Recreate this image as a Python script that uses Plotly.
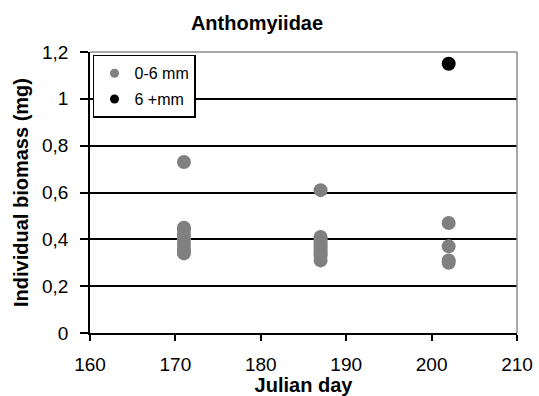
import plotly.graph_objects as go

# Julian day of each sample and individual biomass (mg)
small_days = [171] * 9 + [187] * 11 + [202] * 4
small_biomass = [0.73, 0.45, 0.44, 0.42, 0.40, 0.38, 0.36, 0.35, 0.34,
                 0.61, 0.41, 0.40, 0.39, 0.38, 0.37, 0.36, 0.35, 0.34, 0.33, 0.31,
                 0.47, 0.37, 0.31, 0.30]
large_days = [202]
large_biomass = [1.15]

size_classes = ["0-6 mm", "6 +mm"]
class_colors = ["#808080", "#000000"]

font_family = "Liberation Sans, Arial, sans-serif"

fig = go.Figure()
for days, biomass, name, color in zip([small_days, large_days],
                                      [small_biomass, large_biomass],
                                      size_classes, class_colors):
    fig.add_trace(go.Scatter(
        x=days, y=biomass, mode="markers", name=name, legendgroup=name,
        showlegend=False,
        marker=dict(color=color, size=14, line=dict(width=0)),
    ))
    # small legend swatch for the same size class
    fig.add_trace(go.Scatter(
        x=[None], y=[None], mode="markers", name=name, legendgroup=name,
        marker=dict(color=color, size=9, line=dict(width=0)),
    ))

# grey frame on the top and right sides of the plot area
fig.add_shape(type="line", xref="paper", yref="paper", x0=0, x1=1, y0=1, y1=1,
              line=dict(color="#8c8c8c", width=1.5), layer="above")
fig.add_shape(type="line", xref="paper", yref="paper", x0=1, x1=1, y0=0, y1=1,
              line=dict(color="#8c8c8c", width=1.5), layer="above")

fig.update_layout(
    width=539, height=396,
    margin=dict(l=90, r=22, t=52, b=63),
    paper_bgcolor="white", plot_bgcolor="white",
    separators=",.",
    font=dict(family=font_family, color="black", size=19),
    title=dict(text="<b>Anthomyiidae</b>", x=257 / 539, xref="container", xanchor="center",
               y=1 - 23 / 396, yref="container", yanchor="middle",
               font=dict(size=20, family=font_family)),
    showlegend=True,
    legend=dict(x=0.007, y=0.99, xanchor="left", yanchor="top",
                bordercolor="black", borderwidth=1.5, bgcolor="white",
                font=dict(size=16, family=font_family),
                tracegroupgap=2, itemwidth=30),
    xaxis=dict(range=[160, 210], dtick=10, tick0=160, automargin=False,
               showgrid=False, zeroline=False,
               showline=True, linecolor="black", linewidth=1.5,
               ticks="outside", ticklen=6, tickcolor="black", tickwidth=1.5,
               tickfont=dict(size=19), ticklabelstandoff=7,
               title=dict(text="<b>Julian day</b>", font=dict(size=20), standoff=0)),
    yaxis=dict(range=[0, 1.2], dtick=0.2, tick0=0, automargin=False,
               showgrid=True, gridcolor="black", gridwidth=1.5,
               zeroline=False,
               showline=True, linecolor="black", linewidth=1.5,
               ticks="outside", ticklen=8, tickcolor="black", tickwidth=1.5,
               tickfont=dict(size=19), ticklabelstandoff=8,
               title=dict(text="<b>Individual biomass (mg)</b>", font=dict(size=20), standoff=8)),
)

fig.write_html("out.html")
